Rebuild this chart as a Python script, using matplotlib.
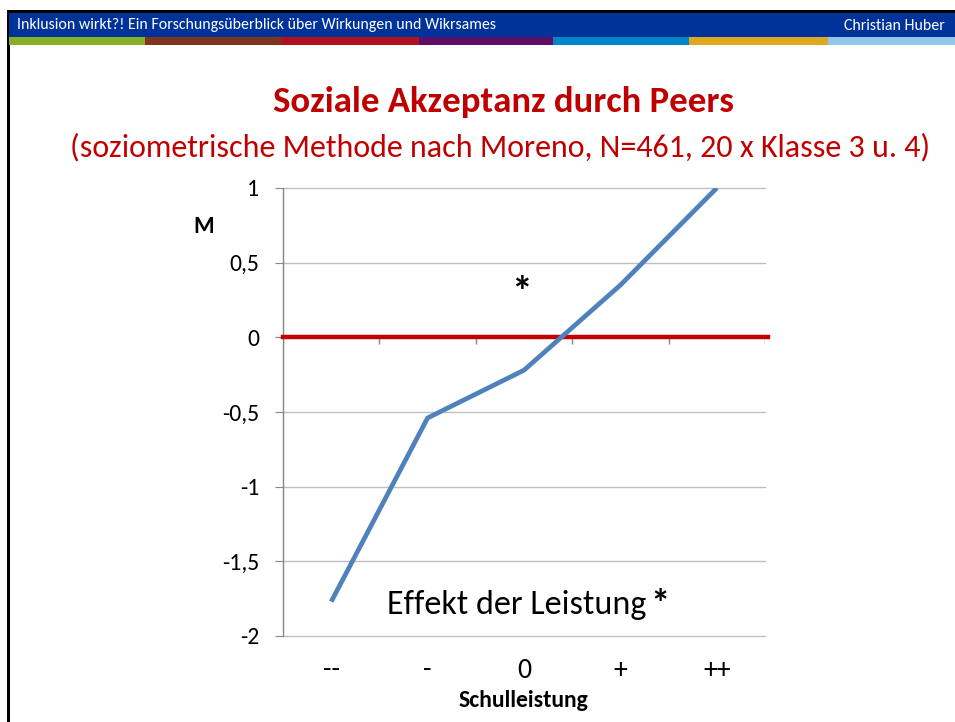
import matplotlib
matplotlib.use("Agg")
import matplotlib.pyplot as plt
from matplotlib.patches import Rectangle
from matplotlib.transforms import blended_transform_factory

# data
categories = ["--", "-", "0", "+", "++"]
acceptance = [-1.77, -0.54, -0.22, 0.35, 1.0]
y_ticks = [1, 0.5, 0, -0.5, -1, -1.5, -2]
y_tick_labels = ["1", "0,5", "0", "-0,5", "-1", "-1,5", "-2"]

header_left = "Inklusion wirkt?! Ein Forschungsüberblick über Wirkungen und Wikrsames"
header_right = "Christian Huber"
stripe_colors = ["#86B02A", "#7F3420", "#B01020", "#5E0E66", "#0085C8", "#DDA820", "#92C5EC"]
stripe_edges = [9, 145, 281, 419, 553, 689, 828, 955]

FONT = "Carlito"
RED = "#C00000"

W, H = 955, 722
fig = plt.figure(figsize=(W / 100, H / 100), dpi=100)

# slide background, pixel coordinates
bg = fig.add_axes([0, 0, 1, 1])
bg.set_xlim(0, W)
bg.set_ylim(H, 0)
bg.axis("off")

bg.add_patch(Rectangle((7, 10), W - 7, 3.5, color="black", lw=0))
bg.add_patch(Rectangle((7, 10), 2.5, H - 10, color="black", lw=0))
bg.add_patch(Rectangle((9, 13), W - 9, 24, color="#00339A", lw=0))
for i, c in enumerate(stripe_colors):
    bg.add_patch(Rectangle((stripe_edges[i], 37), stripe_edges[i + 1] - stripe_edges[i], 8, color=c, lw=0))

bg.text(17, 25.5, header_left, color="white", fontsize=11.4, family=FONT, va="center", ha="left")
bg.text(945, 25.5, header_right, color="white", fontsize=11.4, family=FONT, va="center", ha="right")

bg.text(503, 102, "Soziale Akzeptanz durch Peers", color=RED, fontsize=26.5, family=FONT,
        fontweight="bold", ha="center", va="center")
bg.text(500, 147, "(soziometrische Methode nach Moreno, N=461, 20 x Klasse 3 u. 4)", color=RED,
        fontsize=23, family=FONT, ha="center", va="center")

# chart
ax = fig.add_axes([283 / W, 1 - 636 / H, (765 - 283) / W, (636 - 188) / H])
ax.patch.set_visible(False)
ax.set_xlim(-0.5, len(categories) - 0.5)
ax.set_ylim(-2, 1)
for s in ["top", "right", "bottom"]:
    ax.spines[s].set_visible(False)
ax.spines["left"].set_color("#868686")
ax.spines["left"].set_linewidth(1)

ax.set_yticks(y_ticks)
ax.set_yticklabels(y_tick_labels, family=FONT, fontsize=17)
ax.tick_params(axis="y", length=6, color="#868686", pad=11)
ax.grid(axis="y", color="#BFBFBF", lw=1)
for gl in ax.get_ygridlines():
    gl.set_clip_on(False)
ax.set_axisbelow(True)

ax.set_xticks(range(len(categories)))
ax.set_xticklabels([])
ax.tick_params(axis="x", length=0)
trans = blended_transform_factory(ax.transData, ax.transAxes)
for i, lab in enumerate(categories):
    ax.text(i, -34 / 448, lab, transform=trans, ha="center", va="center", fontsize=20, family=FONT)

# category boundary ticks on the zero line
ax.vlines([i + 0.5 for i in range(-1, len(categories))], 0, -0.045, color="#868686", lw=1)

ax.axhline(0, xmax=1.006, color=RED, lw=3.2, zorder=3, clip_on=False)
ax.plot(range(len(categories)), acceptance, color="#4F81BD", lw=3.4, zorder=4,
        solid_capstyle="butt", solid_joinstyle="miter")

# annotations
bg.text(204, 233, "M", ha="center", va="baseline", fontsize=17, family=FONT, fontweight="bold")
bg.text(521, 306, "*", ha="center", va="baseline", fontsize=30, family=FONT, fontweight="bold")
bg.text(387, 614, "Effekt der Leistung", ha="left", va="baseline", fontsize=24.5, family=FONT)
bg.text(670, 616, "*", ha="right", va="baseline", fontsize=28, family=FONT, fontweight="bold")
bg.text(523, 707, "Schulleistung", ha="center", va="baseline", fontsize=17, family=FONT, fontweight="bold")

fig.savefig("out.png", dpi=100)
